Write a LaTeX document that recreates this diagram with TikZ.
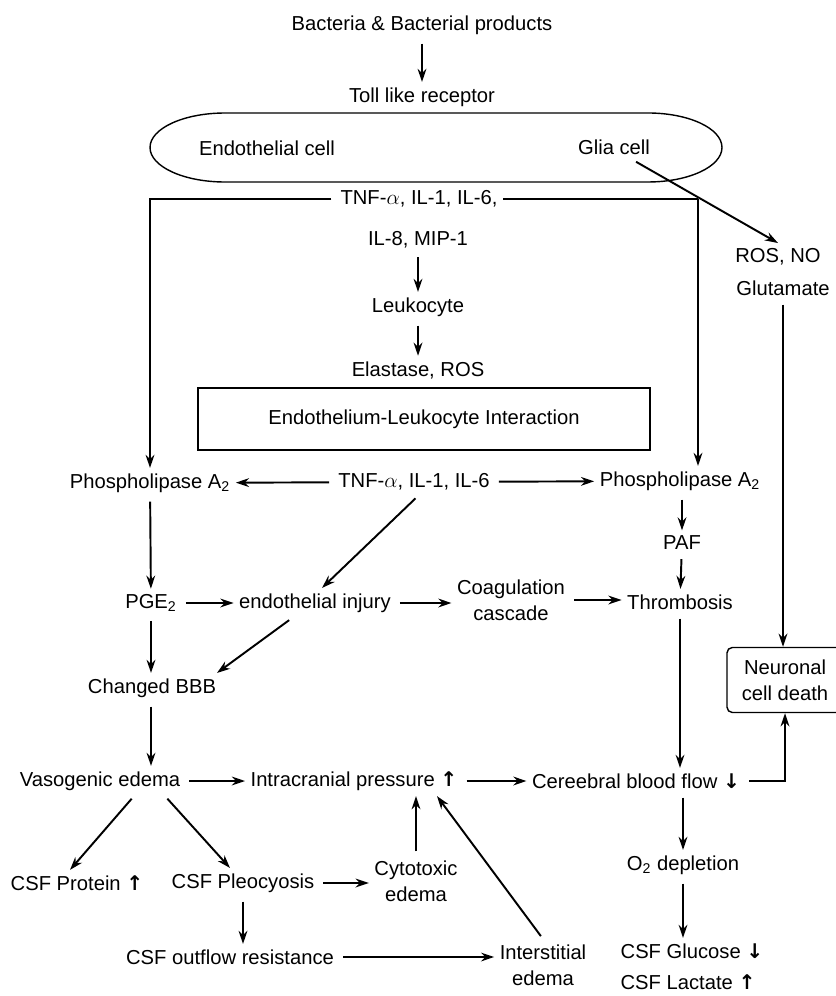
\documentclass[tikz,border=0pt]{standalone}
\usepackage{fontspec}
\setmainfont{Liberation Sans}
\newfontfamily\arrfont{DejaVu Sans}
\newcommand{\up}{{\arrfont\bfseries ↑}}
\newcommand{\down}{{\arrfont\bfseries ↓}}
\usetikzlibrary{arrows.meta}

\begin{document}
\begin{tikzpicture}[x=0.02cm,y=-0.02cm,every node/.style={font=\fontsize{11.5}{14.8}\selectfont,inner sep=3pt,align=center},arr/.style={-{Stealth[length=7.5pt,width=5pt]},line width=1.1pt,shorten <=2pt},ln/.style={line width=1.1pt}]
\useasboundingbox[fill=white] (0,0) rectangle (835,996);
\node (bac) at (422,25) {Bacteria \& Bacterial products};
\node (tlr) at (422,97) {Toll like receptor};
\draw[line width=0.8pt] (225,113) -- (648,113) arc[start angle=90,end angle=-90,x radius=1.48cm,y radius=0.69cm]
  -- (225,182) arc[start angle=270,end angle=90,x radius=1.5cm,y radius=0.69cm] -- cycle;
\node (endo) at (267,148) {Endothelial cell};
\node (glia) at (614,147) {Glia cell};
\node (tnfa) at (419,199) {TNF-$\alpha$, IL-1, IL-6,};
\node (il8) at (418,240) {IL-8, MIP-1};
\node (leuk) at (418,307) {Leukocyte};
\node (elas) at (418,370) {Elastase, ROS};
\node[draw,line width=0.8pt,minimum width=9.04cm,minimum height=1.24cm] (eli) at (424,419) {Endothelium-Leukocyte Interaction};
\node (ros) at (778,257) {ROS, NO};
\node (glu) at (783,288) {Glutamate};
\node (plaL) at (150,483) {Phospholipase A\textsubscript{2}};
\node (tnfb) at (414,482) {TNF-$\alpha$, IL-1, IL-6};
\node (plaR) at (680,481) {Phospholipase A\textsubscript{2}};
\node (paf) at (682,543) {PAF};
\node (pge) at (151,603) {PGE\textsubscript{2}};
\node (inj) at (315,603) {endothelial injury};
\node (coag) at (511,600) {Coagulation\\cascade};
\node (thr) at (680,602) {Thrombosis};
\node[draw,line width=0.8pt,rounded corners=3pt,minimum width=2.32cm,minimum height=1.3cm] (ncd) at (785,680) {Neuronal\\cell death};
\node (bbb) at (152,688) {Changed BBB};
\node (vas) at (100,781) {Vasogenic edema};
\node (icp) at (354,781) {Intracranial pressure \up};
\node (cbf) at (636,781) {Cereebral blood flow \down};
\node (prot) at (77,883) {CSF Protein \up};
\node (pleo) at (243,883) {CSF Pleocyosis};
\node (cyto) at (416,881) {Cytotoxic\\edema};
\node (o2) at (683,865) {O\textsubscript{2} depletion};
\node (out) at (230,957) {CSF outflow resistance};
\node (inter) at (543,965) {Interstitial\\edema};
\node (glc) at (692,951) {CSF Glucose \down};
\node (lac) at (688,982) {CSF Lactate \up};
\coordinate (cR) at (698,199);
\draw[arr] (bac) -- (tlr);
\draw[arr] ([xshift=0.38cm]glia.south) -- (ros.north);
\draw[arr] (tnfa.west) -| (plaL.north);
\draw[ln] (tnfa.east) -- (cR); \draw[arr,shorten <=0pt] (cR) -- (cR |- plaR.north);
\draw[arr] (il8) -- (leuk); \draw[arr] (leuk) -- (elas);
\draw[arr] (tnfb) -- (plaL); \draw[arr] (tnfb) -- (plaR);
\draw[arr] ([xshift=0.08cm]tnfb.south) -- ([xshift=0.14cm]inj.north);
\draw[arr] (plaL) -- (pge); \draw[arr] (plaR.south -| paf.north) -- (paf); \draw[arr] (paf) -- (thr);
\draw[arr] (pge) -- (inj); \draw[arr] (inj.east) -- (inj.east -| coag.west); \draw[arr] (coag.east) -- (coag.east -| thr.west);
\draw[arr] ([xshift=-0.46cm]inj.south) -- ([xshift=1.3cm]bbb.north);
\draw[arr] (pge.south) -- (pge.south |- bbb.north);
\draw[arr] (bbb.south -| pge.south) -- (pge.south |- vas.north);
\draw[arr] (glu.south) -- (glu.south |- ncd.north);
\draw[arr] (thr.south) -- (thr.south |- cbf.north);
\draw[arr] (vas) -- (icp); \draw[arr] (icp) -- (cbf);
\draw[arr] (cbf.east) -| (ncd.south);
\draw[arr] (o2.north |- cbf.south) -- (o2.north); \draw[arr] (o2.south) -- (o2.south |- glc.north);
\draw[arr] ([xshift=0.68cm]vas.south) -- ([xshift=-0.14cm]prot.north);
\draw[arr] ([xshift=1.3cm]vas.south) -- ([xshift=-0.26cm]pleo.north);
\draw[arr] (pleo.east) -- (pleo.east -| cyto.west);
\draw[arr] (cyto.north) -- (cyto.north |- icp.south);
\draw[arr] (pleo.south) -- (pleo.south |- out.north);
\draw[arr] (out.east) -- (out.east -| inter.west);
\draw[arr] (inter.north) -- ([xshift=1.66cm]icp.south);
\end{tikzpicture}
\end{document}
